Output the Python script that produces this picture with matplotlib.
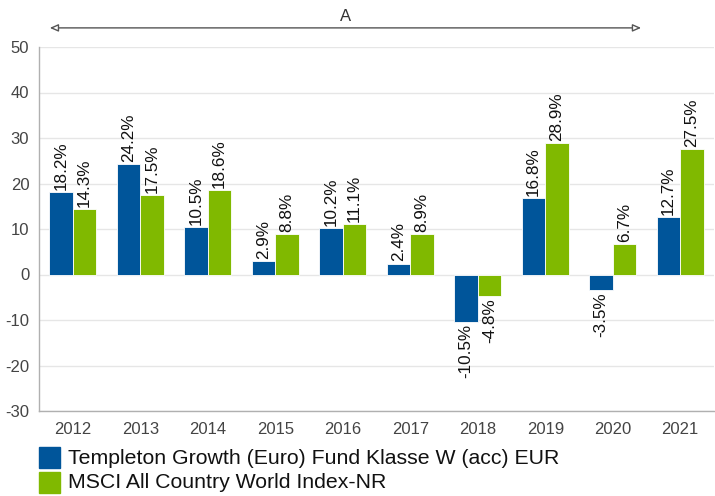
import matplotlib
matplotlib.use("Agg")
import matplotlib.pyplot as plt
from matplotlib.patches import Rectangle
import numpy as np

plt.rcParams['font.family'] = ['Liberation Sans', 'DejaVu Sans']
plt.rcParams['axes.unicode_minus'] = False

years = ["2012", "2013", "2014", "2015", "2016", "2017", "2018", "2019", "2020", "2021"]
fund = [18.2, 24.2, 10.5, 2.9, 10.2, 2.4, -10.5, 16.8, -3.5, 12.7]
index = [14.3, 17.5, 18.6, 8.8, 11.1, 8.9, -4.8, 28.9, 6.7, 27.5]
series_names = ["Templeton Growth (Euro) Fund Klasse W (acc) EUR",
                "MSCI All Country World Index-NR"]
yticks = [-30, -20, -10, 0, 10, 20, 30, 40, 50]

BLUE = "#00559a"
GREEN = "#80b900"

W, H = 715, 496
fig = plt.figure(figsize=(W / 100, H / 100), dpi=100)
ax = fig.add_axes([39 / W, 1 - 411 / H, (714 - 39) / W, (411 - 47) / H])

x = np.arange(len(years))
bw = 0.35
b1 = ax.bar(x - bw / 2, fund, bw, color=BLUE, edgecolor="white", linewidth=0.6, zorder=3)
b2 = ax.bar(x + bw / 2, index, bw, color=GREEN, edgecolor="white", linewidth=0.6, zorder=3)

for bars, vals in ((b1, fund), (b2, index)):
    for r, v in zip(bars, vals):
        cx = r.get_x() + r.get_width() / 2
        ax.annotate(f"{v:.1f}%", (cx, v), xytext=(0, 1.5 if v >= 0 else -1.5),
                    textcoords="offset points", rotation=90, ha="center",
                    va="bottom" if v >= 0 else "top", fontsize=12.3, color="#111",
                    zorder=4)

ax.set_xlim(-0.5, len(years) - 0.5)
ax.set_ylim(-30, 50)
ax.set_yticks(yticks)
ax.set_xticks(x)
ax.set_xticklabels(years)
ax.tick_params(axis="both", length=0, labelsize=12, labelcolor="#444")
ax.tick_params(axis="x", pad=8)
ax.tick_params(axis="y", pad=7)
ax.grid(axis="y", color="#e6e6e6", linewidth=1, zorder=0)
for s in ("top", "right"):
    ax.spines[s].set_visible(False)
for s in ("left", "bottom"):
    ax.spines[s].set_color("#b0b0b0")
    ax.spines[s].set_linewidth(1)

# Period arrow "A"
ax.annotate("", xy=(-0.34, 54.2), xytext=(8.42, 54.2), xycoords="data",
            arrowprops=dict(arrowstyle="<|-|>,head_length=0.5,head_width=0.22",
                            fc="white", ec="#555", lw=1, shrinkA=0, shrinkB=0),
            annotation_clip=False)
ax.text(4.04, 56.8, "A", ha="center", va="center", fontsize=12, color="#333",
        clip_on=False)

# Legend
for i, (name, col) in enumerate(zip(series_names, [BLUE, GREEN])):
    y0 = 447 + i * 25
    fig.patches.append(Rectangle((39 / W, 1 - (y0 + 21) / H), 21 / W, 21 / H,
                                 transform=fig.transFigure, color=col))
    fig.text(68 / W, 1 - (y0 + 11) / H, name, fontsize=15.3, color="#111",
             va="center", ha="left")

fig.savefig("out.png", dpi=100)
